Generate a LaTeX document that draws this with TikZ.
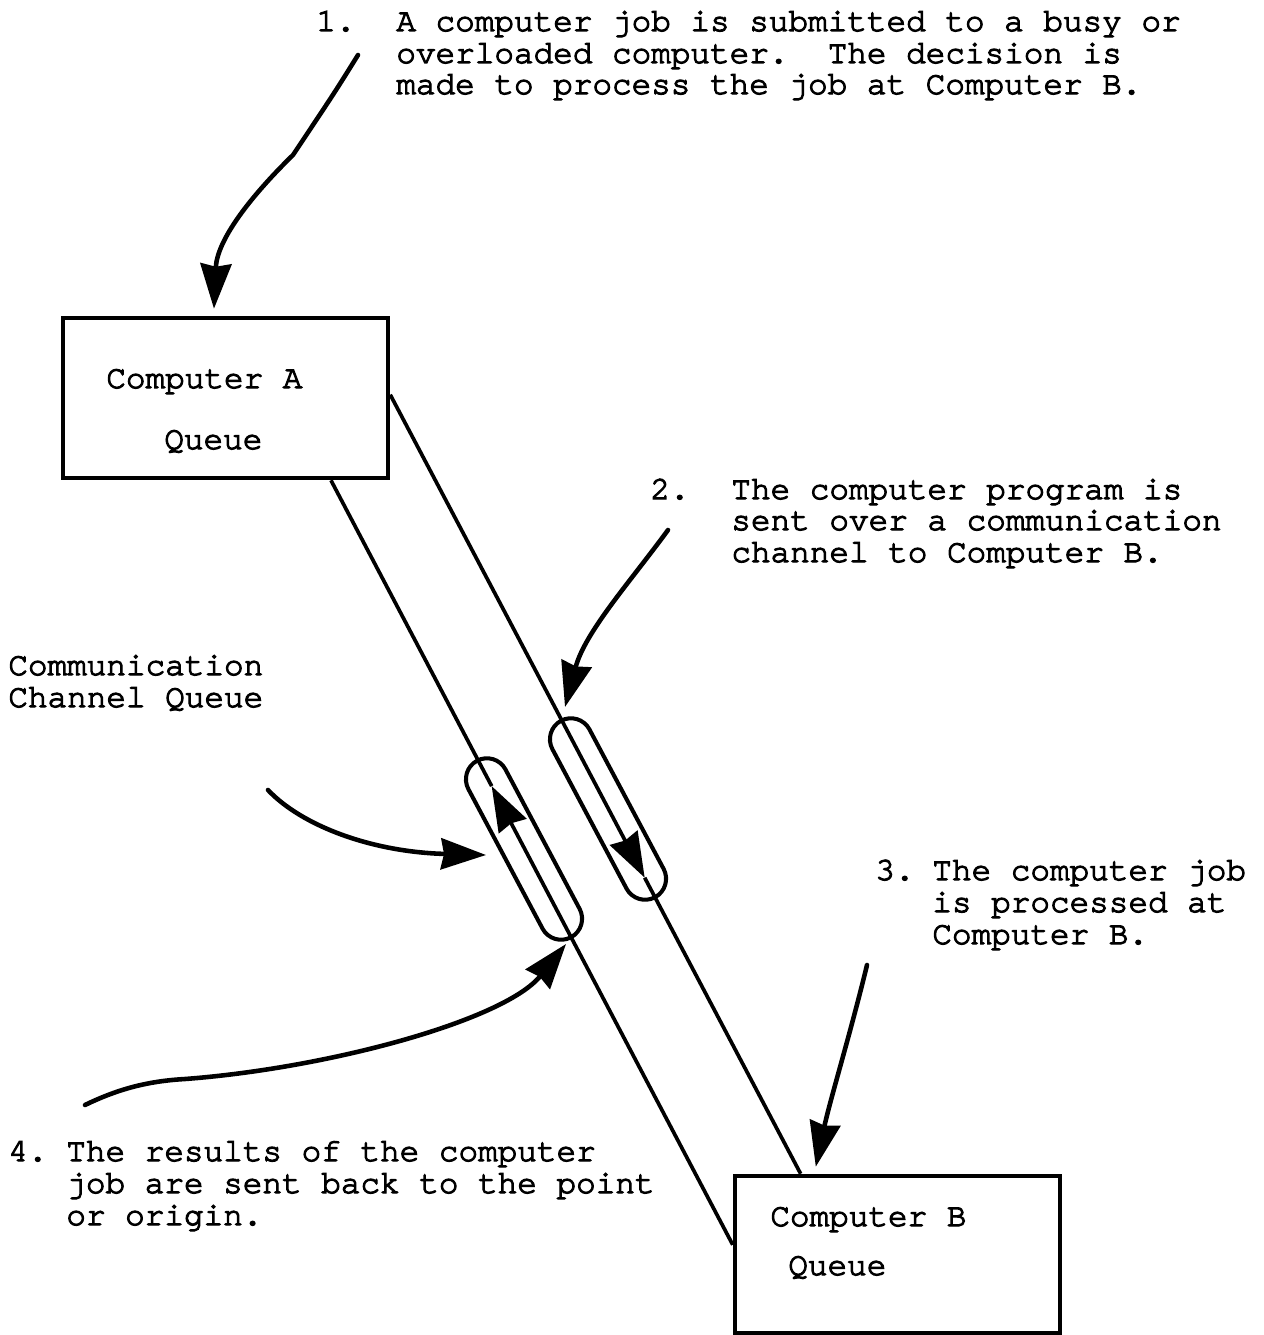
\documentclass[tikz,border=0pt]{standalone}
\usepackage{fontspec}
\newfontfamily\tw{TeX Gyre Cursor}[FakeBold=3.5]
\usetikzlibrary{arrows.meta,calc}

\tikzset{
  fathead/.tip={Stealth[length=0.9cm,width=0.62cm,inset=0.06cm]},
  txt/.style={anchor=base west,inner sep=0pt,font=\tw\fontsize{18.6pt}{18pt}\selectfont\frenchspacing},
  queuebox/.style={draw,line width=2.6pt,minimum width=6.5cm,inner sep=0pt},
  link/.style={line width=2.1pt},
  capsule/.style={draw,line width=2.3pt,minimum width=4cm,minimum height=0.84cm,
    rounded corners=0.42cm,inner sep=0pt},
  pointer/.style={line width=2.6pt,line cap=round,-fathead}
}

\begin{document}
\begin{tikzpicture}[x=0.02cm,y=-0.02cm]
  \fill[white] (0,0) rectangle (1264,1335);
  \useasboundingbox (0,0) rectangle (1264,1335);

  % the two computers
  \node[queuebox,minimum height=3.2cm] (boxA) at (225.5,398) {};
  \node[queuebox,minimum height=3.14cm] (boxB) at (897.5,1254.5) {};

  \node[txt] (laA) at (106,388) {Computer A};
  \node[txt] (lqA) at (164,449) {Queue};
  \node[txt] (laB) at (770,1226) {Computer B};
  \node[txt] (lqB) at (788,1275) {Queue};

  % channel ends on the boxes
  \coordinate (a1) at ($(boxA.north east)!0.48!(boxA.south east)$);
  \coordinate (b1) at ($(boxB.north west)!0.206!(boxB.north east)$);
  \coordinate (a2) at ($(boxA.south west)!0.82!(boxA.south east)$);
  \coordinate (b2) at ($(boxB.north west)!0.44!(boxB.south west)$);
  \coordinate (m1) at ($(a1)!0.62!(b1)$);
  \coordinate (m2) at ($(b2)!0.60!(a2)$);

  % outgoing channel A -> B
  \draw[link,-fathead] (a1) -- (m1);
  \draw[link] (m1) -- (b1);
  % return channel B -> A
  \draw[link,-fathead] (b2) -- (m2);
  \draw[link] (m2) -- (a2);

  % channel queues
  \node[capsule,rotate=-62] (cap1) at (608,809) {};
  \node[capsule,rotate=-62] (cap2) at (524,849) {};

  % step 1
  \node[txt] (n1) at (316,31) {1.};
  \node[txt] (p1a) at (396,31) {A computer job is submitted to a busy or};
  \node[txt] (p1b) at (396,63) {overloaded computer.\ \ The decision is};
  \node[txt] (p1c) at (396,94) {made to process the job at Computer B.};
  \coordinate (s1) at (358,55);
  \coordinate (t1) at ($(boxA.north west)!0.465!(boxA.north east)$);
  \draw[pointer] (s1) .. controls (335,92) .. (293,155)
     .. controls (250,197) and (217,240) .. ([yshift=4]t1);

  % step 2
  \node[txt] (n2) at (650,499) {2.};
  \node[txt] (p2a) at (731,499) {The computer program is};
  \node[txt] (p2b) at (731,530) {sent over a communication};
  \node[txt] (p2c) at (731,562) {channel to Computer B.};
  \coordinate (s2) at (668,530);
  \coordinate (t2) at (565,707);
  \draw[pointer] (s2) .. controls (630,582) and (585,632) .. (t2);

  % channel queue label
  \node[txt] (cq1) at (8,675) {Communication};
  \node[txt] (cq2) at (8,707) {Channel Queue};
  \coordinate (s3) at (268,790);
  \coordinate (t3) at (486,855);
  \draw[pointer] (s3) .. controls (302,826) and (372,852) .. (t3);

  % step 3
  \node[txt] (n3) at (875,880) {3.};
  \node[txt] (p3a) at (932,880) {The computer job};
  \node[txt] (p3b) at (932,912) {is processed at};
  \node[txt] (p3c) at (932,944) {Computer B.};
  \coordinate (s5) at (867,965);
  \coordinate (t5) at ($(boxB.north west)!0.252!(boxB.north east)$);
  \draw[pointer] (s5) .. controls (850,1035) and (830,1100) .. ([yshift=4]t5);

  % step 4
  \node[txt] (n4) at (8,1161) {4.};
  \node[txt] (p4a) at (66,1161) {The results of the computer};
  \node[txt] (p4b) at (66,1193) {job are sent back to the point};
  \node[txt] (p4c) at (66,1225) {or origin.};
  \coordinate (s4) at (85,1105);
  \coordinate (t4) at (566,944);
  \draw[pointer] (s4) .. controls (120,1088) and (150,1081) .. (185,1079)
     .. controls (330,1068) and (505,1020) .. (t4);
\end{tikzpicture}
\end{document}
